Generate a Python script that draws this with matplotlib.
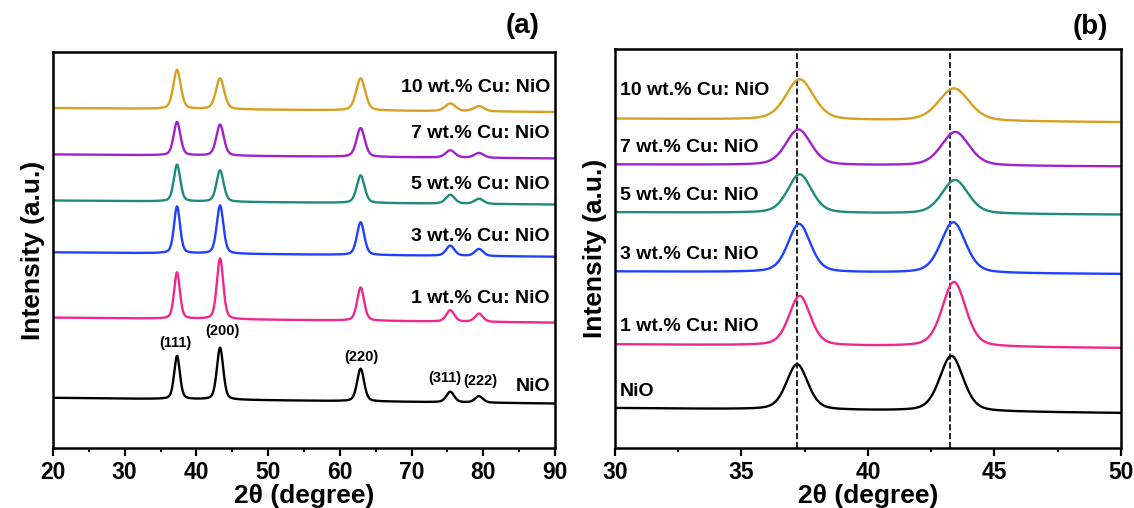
import numpy as np
import matplotlib
matplotlib.use("Agg")
import matplotlib.pyplot as plt

plt.rcParams["font.family"] = ["Liberation Sans", "DejaVu Sans"]
plt.rcParams["font.weight"] = "bold"

# samples, bottom to top
samples = ["NiO", "1 wt.% Cu: NiO", "3 wt.% Cu: NiO", "5 wt.% Cu: NiO",
           "7 wt.% Cu: NiO", "10 wt.% Cu: NiO"]
colors = ["#000000", "#F2278C", "#2040FF", "#1E8A7E", "#A021CC", "#D6A020"]
broadening = [1.0, 1.0, 1.05, 1.12, 1.18, 1.3]

# panel (a): full scan 20-90
hkl = ["(111)", "(200)", "(220)", "(311)", "(222)"]
pos_a = [37.3, 43.3, 62.9, 75.4, 79.4]
fwhm_a = [0.95, 1.05, 1.15, 1.3, 1.3]
base_left_a = [50.2, 130.4, 195.7, 247.5, 293.6, 340.0]
base_right_a = [44.5, 125.4, 191.3, 243.5, 289.6, 336.0]
apex_a = [
    [92.0, 100.3, 79.3, 56.2, 51.8],
    [175.6, 189.6, 160.5, 137.8, 134.4],
    [241.5, 242.5, 225.8, 202.3, 199.0],
    [283.3, 277.6, 272.6, 253.2, 249.2],
    [326.0, 323.4, 320.0, 297.7, 295.0],
    [378.0, 369.6, 369.6, 344.5, 341.8],
]
hkl_label_y = [105, 117, 91, 70, 67]
hkl_label_x = [37.1, 43.6, 63.0, 74.6, 79.6]
label_y_a = [62, 150, 212, 264, 315, 361]

# panel (b): zoom 30-50
pos_b = [
    [37.2, 43.3], [37.3, 43.4], [37.28, 43.37],
    [37.3, 43.44], [37.25, 43.45], [37.3, 43.4],
]
fwhm_b = [1.0, 1.1]
base_left_b = [40.0, 103.7, 176.6, 235.8, 283.6, 329.4]
base_right_b = [35.0, 100.0, 174.0, 233.4, 281.6, 325.8]
apex_b = [
    [83.6, 92.0], [152.0, 166.0], [224.0, 225.7],
    [273.6, 268.0], [318.4, 316.0], [368.6, 359.5],
]
label_y_b = [57, 122, 194, 253, 301, 358]
ref_lines = [37.2, 43.25]


def pv(x, x0, w, eta=0.35):
    g = np.exp(-4 * np.log(2) * (x - x0) ** 2 / w ** 2)
    l = 1 / (1 + 4 * (x - x0) ** 2 / w ** 2)
    return eta * l + (1 - eta) * g


def xrd_curve(x, bl, br, pos, apex, widths):
    x_lo, x_hi = x[0], x[-1]
    base = bl + (br - bl) * (x - x_lo) / (x_hi - x_lo)
    y = base.copy()
    for p, a, w in zip(pos, apex, widths):
        b0 = bl + (br - bl) * (p - x_lo) / (x_hi - x_lo)
        y += (a - b0) * pv(x, p, w)
    return y


def style_axis(ax, xlim, major, minor):
    ax.set_xlim(*xlim)
    ax.set_xticks(np.arange(xlim[0], xlim[1] + 0.1, major))
    ax.set_xticks(np.arange(xlim[0], xlim[1] + 0.1, minor), minor=True)
    ax.set_yticks([])
    ax.tick_params(axis="x", which="major", direction="out", length=6, width=1.6,
                   labelsize=16.5, pad=3)
    ax.tick_params(axis="x", which="minor", direction="out", length=3, width=1.4)
    for lab in ax.get_xticklabels():
        lab.set_fontweight("bold")
    for s in ax.spines.values():
        s.set_linewidth(1.8)
    ax.set_xlabel("2θ (degree)", fontsize=19, fontweight="bold", labelpad=0)


fig = plt.figure(figsize=(11.34, 5.08), dpi=100)
ax_a = fig.add_axes([0.0467, 0.1181, 0.4427, 0.7795])
ax_b = fig.add_axes([0.5423, 0.1181, 0.4462, 0.7854])

# (a)
xa = np.linspace(20, 90, 2801)
for i in range(len(samples)):
    widths = [w * broadening[i] for w in fwhm_a]
    ya = xrd_curve(xa, base_left_a[i], base_right_a[i], pos_a, apex_a[i], widths)
    ax_a.plot(xa, ya, color=colors[i], lw=1.7)
    ax_a.text(89.3, label_y_a[i], samples[i], ha="right", va="center",
              fontsize=14, fontweight="bold")
for lab, p, yy in zip(hkl, hkl_label_x, hkl_label_y):
    ax_a.text(p, yy, lab, ha="center", va="center", fontsize=10.5, fontweight="bold")
ax_a.set_ylim(0, 396)
style_axis(ax_a, (20, 90), 10, 5)
ax_a.set_ylabel("Intensity (a.u.)", fontsize=19, fontweight="bold", labelpad=6)
ax_a.text(0.935, 1.065, "(a)", transform=ax_a.transAxes, ha="center", va="center",
          fontsize=20, fontweight="bold")

# (b)
xb = np.linspace(30, 50, 2001)
for i in range(len(samples)):
    widths = [w * broadening[i] for w in fwhm_b]
    yb = xrd_curve(xb, base_left_b[i], base_right_b[i], pos_b[i], apex_b[i], widths)
    ax_b.plot(xb, yb, color=colors[i], lw=1.7)
    ax_b.text(30.2, label_y_b[i], samples[i], ha="left", va="center",
              fontsize=14, fontweight="bold")
for xv in ref_lines:
    ax_b.axvline(xv, color="black", ls="--", lw=1.2, zorder=0)
ax_b.set_ylim(0, 399)
style_axis(ax_b, (30, 50), 5, 2.5)
ax_b.set_ylabel("Intensity (a.u.)", fontsize=19, fontweight="bold", labelpad=6)
ax_b.text(0.94, 1.055, "(b)", transform=ax_b.transAxes, ha="center", va="center",
          fontsize=20, fontweight="bold")

fig.savefig("out.png", dpi=100)
